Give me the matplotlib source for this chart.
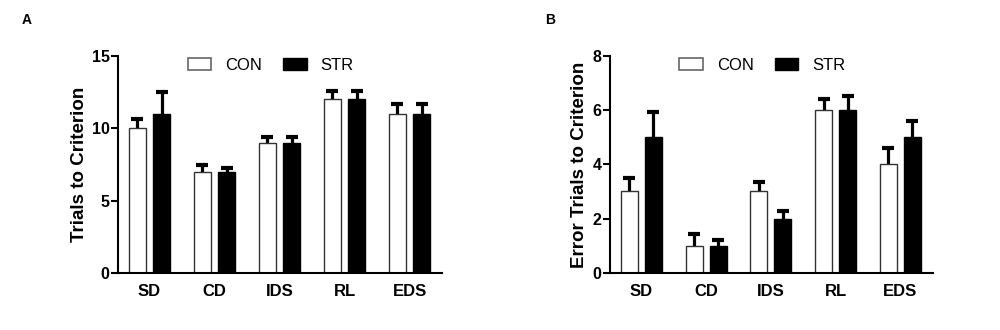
import numpy as np
import matplotlib.pyplot as plt
from matplotlib.patches import Patch

plt.rcParams['font.family'] = ['Liberation Sans', 'DejaVu Sans']

# ============================================================
# ДАННЫЕ
# ============================================================

stages = ["SD", "CD", "IDS", "RL", "EDS"]

trials_con = [10, 7, 9, 12, 11]
trials_con_err = [0.62, 0.46, 0.38, 0.6, 0.66]
trials_str = [11, 7, 9, 12, 11]
trials_str_err = [1.54, 0.23, 0.42, 0.6, 0.66]

errors_con = [3, 1, 3, 6, 4]
errors_con_err = [0.48, 0.43, 0.35, 0.4, 0.59]
errors_str = [5, 1, 2, 6, 5]
errors_str_err = [0.92, 0.21, 0.29, 0.54, 0.61]

# ============================================================
# ОТРИСОВКА
# ============================================================

fig = plt.figure(figsize=(10, 3.3), dpi=100)
ax_a = fig.add_axes([0.118, 0.1736, 0.324, 0.6564])
ax_b = fig.add_axes([0.610, 0.1736, 0.3227, 0.6564])

x = np.arange(len(stages))
w = 0.26
off = 0.185


def draw_panel(ax, con, con_err, strv, str_err, ymax, step, ylabel):
    # усы рисуем под столбиками, нижняя половина прячется за заливкой
    ax.errorbar(x - off, con, yerr=con_err, fmt="none", ecolor="black",
                elinewidth=2.3, capsize=4.5, capthick=3, zorder=1)
    ax.errorbar(x + off, strv, yerr=str_err, fmt="none", ecolor="black",
                elinewidth=2.3, capsize=4.5, capthick=3, zorder=1)
    ax.bar(x - off, con, w, color="white", edgecolor="#333333", linewidth=1.0, zorder=2)
    ax.bar(x + off, strv, w, color="black", edgecolor="black", linewidth=1.0, zorder=2)

    ax.set_xlim(-0.485, 4.5)
    ax.set_ylim(0, ymax)
    ax.set_yticks(np.arange(0, ymax + 0.1, step))
    ax.set_xticks(x)
    ax.set_xticklabels(stages, fontsize=12, fontweight="bold")
    for lab in ax.get_yticklabels():
        lab.set_fontweight("bold")
        lab.set_fontsize(11.5)
    ax.tick_params(axis="x", length=0, pad=8)
    ax.tick_params(axis="y", length=5, width=1.5, pad=1)
    ax.spines["top"].set_visible(False)
    ax.spines["right"].set_visible(False)
    ax.spines["left"].set_linewidth(1.5)
    ax.spines["bottom"].set_linewidth(1.5)
    ax.spines["bottom"].set_zorder(3)
    ax.set_ylabel(ylabel, fontsize=13.5, fontweight="bold", labelpad=3)

    handles = [Patch(facecolor="white", edgecolor="#666666", linewidth=1.2),
               Patch(facecolor="black", edgecolor="black")]
    ax.legend(handles, ["CON", "STR"], loc="upper center", bbox_to_anchor=(0.472, 1.06),
              ncol=2, frameon=False, fontsize=12, handlelength=1.4, handleheight=0.75,
              columnspacing=1.25, handletextpad=0.85)


draw_panel(ax_a, trials_con, trials_con_err, trials_str, trials_str_err,
           15, 5, "Trials to Criterion")
draw_panel(ax_b, errors_con, errors_con_err, errors_str, errors_str_err,
           8, 2, "Error Trials to Criterion")

fig.text(0.022, 0.94, "A", fontsize=10, fontweight="bold", va="center")
fig.text(0.545, 0.94, "B", fontsize=10, fontweight="bold", va="center")

plt.savefig("out.png", dpi=100)
